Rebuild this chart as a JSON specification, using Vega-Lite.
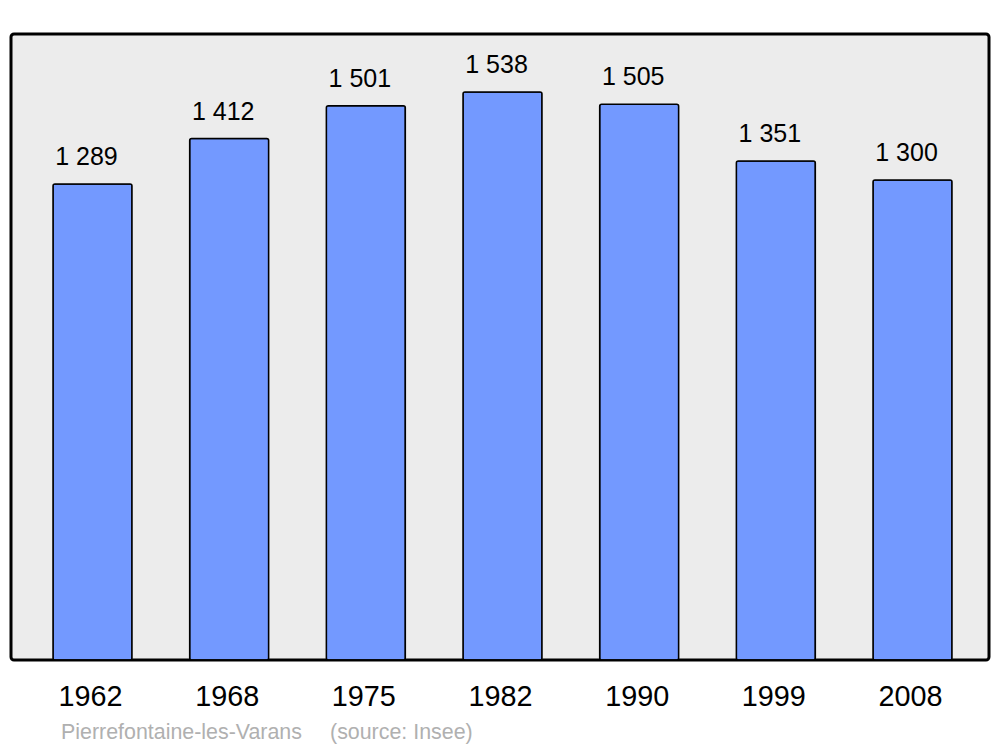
{
  "$schema": "https://vega.github.io/schema/vega-lite/v6.json",
  "width": 978,
  "height": 626,
  "autosize": "none",
  "padding": {"left": 11, "top": 34, "right": 11, "bottom": 87},
  "background": "white",
  "config": {
    "font": "Liberation Sans",
    "view": {"fill": "#ececec", "stroke": "black", "strokeWidth": 3, "cornerRadius": 3}
  },
  "title": {
    "text": "Pierrefontaine-les-Varans\u00a0\u00a0\u00a0\u00a0\u2009(source: Insee)",
    "orient": "bottom",
    "anchor": "start",
    "dx": 50,
    "offset": 11,
    "fontSize": 21.4,
    "fontWeight": "normal",
    "color": "#b0b0b0",
    "font": "Liberation Sans"
  },
  "data": {
    "values": [
      {"year": "1962", "pop": 1289, "label": "1 289"},
      {"year": "1968", "pop": 1412, "label": "1 412"},
      {"year": "1975", "pop": 1501, "label": "1 501"},
      {"year": "1982", "pop": 1538, "label": "1 538"},
      {"year": "1990", "pop": 1505, "label": "1 505"},
      {"year": "1999", "pop": 1351, "label": "1 351"},
      {"year": "2008", "pop": 1300, "label": "1 300"}
    ]
  },
  "encoding": {
    "x": {
      "field": "year",
      "type": "ordinal",
      "sort": null,
      "scale": {"range": [42, 941], "paddingInner": 0.422, "paddingOuter": 0},
      "axis": {
        "title": null,
        "ticks": false,
        "domain": false,
        "labelAngle": 0,
        "labelFontSize": 28.8,
        "labelColor": "black",
        "labelBaseline": "alphabetic",
        "labelPadding": 45,
        "labelOffset": -2,
        "labelFont": "Liberation Sans"
      }
    },
    "y": {
      "field": "pop",
      "type": "quantitative",
      "scale": {"domain": [0, 1695]},
      "axis": null
    }
  },
  "layer": [
    {
      "mark": {"type": "bar", "fill": "#7399ff", "stroke": "black", "strokeWidth": 1.5, "cornerRadius": 2}
    },
    {
      "mark": {"type": "text", "dx": -6, "dy": -19, "baseline": "alphabetic", "fontSize": 25, "color": "black", "font": "Liberation Sans"},
      "encoding": {"text": {"field": "label"}}
    }
  ]
}
